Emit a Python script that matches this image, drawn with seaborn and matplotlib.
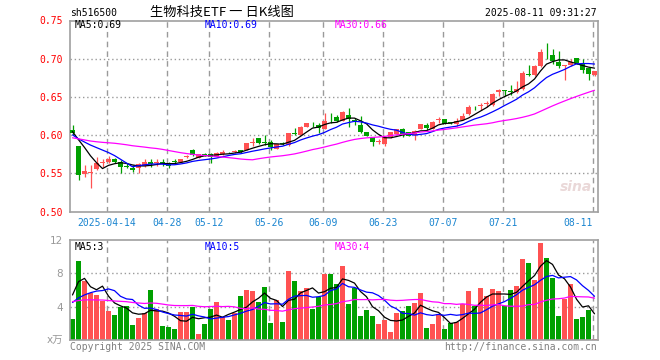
import numpy as np
import pandas as pd
import matplotlib
matplotlib.use("Agg")
import matplotlib.pyplot as plt
import seaborn as sns

# ---------------- data ----------------
opens = [0.6065, 0.5856, 0.5487, 0.5500, 0.5556, 0.5635, 0.5643, 0.5687, 0.5643, 0.5590,
         0.5574, 0.5574, 0.5600, 0.5643, 0.5636, 0.5643, 0.5630, 0.5655, 0.5652, 0.5715,
         0.5809, 0.5704, 0.5745, 0.5748, 0.5717, 0.5748, 0.5778, 0.5774, 0.5804, 0.5804,
         0.5900, 0.5957, 0.5903, 0.5912, 0.5824, 0.5893, 0.5868, 0.6025, 0.6000, 0.6110,
         0.6156, 0.6132, 0.6079, 0.6222, 0.6241, 0.6189, 0.6263, 0.6191, 0.6132, 0.6035,
         0.5969, 0.5910, 0.5881, 0.5969, 0.6013, 0.6075, 0.6035, 0.6000, 0.6079, 0.6132,
         0.6079, 0.6204, 0.6211, 0.6164, 0.6140, 0.6201, 0.6280, 0.6380, 0.6383, 0.6410,
         0.6399, 0.6561, 0.6586, 0.6567, 0.6565, 0.6605, 0.6796, 0.6785, 0.6903, 0.7059,
         0.7044, 0.6960, 0.6900, 0.6917, 0.7004, 0.6925, 0.6873, 0.6785]
highs = [0.6130, 0.5860, 0.5609, 0.5609, 0.5709, 0.5687, 0.5726, 0.5700, 0.5674, 0.5630,
         0.5609, 0.5639, 0.5687, 0.5687, 0.5687, 0.5687, 0.5652, 0.5682, 0.5690, 0.5745,
         0.5822, 0.5750, 0.5761, 0.5761, 0.5774, 0.5804, 0.5785, 0.5800, 0.5810, 0.5895,
         0.5957, 0.5965, 0.6000, 0.5934, 0.5890, 0.5912, 0.6030, 0.6088, 0.6115, 0.6160,
         0.6176, 0.6154, 0.6285, 0.6285, 0.6263, 0.6315, 0.6351, 0.6220, 0.6250, 0.6040,
         0.5978, 0.5943, 0.5978, 0.6040, 0.6080, 0.6088, 0.6040, 0.6066, 0.6150, 0.6162,
         0.6180, 0.6241, 0.6215, 0.6176, 0.6220, 0.6289, 0.6399, 0.6385, 0.6421, 0.6451,
         0.6552, 0.6605, 0.6587, 0.6662, 0.6706, 0.6838, 0.6912, 0.6912, 0.7123, 0.7202,
         0.7132, 0.7101, 0.6912, 0.6991, 0.7013, 0.6991, 0.6881, 0.6838]
lows = [0.6000, 0.5413, 0.5456, 0.5304, 0.5543, 0.5587, 0.5630, 0.5630, 0.5508, 0.5565,
        0.5522, 0.5508, 0.5587, 0.5587, 0.5600, 0.5600, 0.5565, 0.5630, 0.5650, 0.5705,
        0.5730, 0.5700, 0.5725, 0.5630, 0.5710, 0.5740, 0.5765, 0.5770, 0.5770, 0.5800,
        0.5861, 0.5880, 0.5868, 0.5802, 0.5820, 0.5868, 0.5860, 0.6000, 0.5995, 0.6105,
        0.6110, 0.6031, 0.6079, 0.6154, 0.6167, 0.6180, 0.6110, 0.6132, 0.6022, 0.5985,
        0.5859, 0.5881, 0.5859, 0.5965, 0.6005, 0.5978, 0.5985, 0.5934, 0.6075, 0.6066,
        0.6075, 0.6154, 0.6140, 0.6150, 0.6119, 0.6192, 0.6267, 0.6333, 0.6333, 0.6368,
        0.6377, 0.6508, 0.6508, 0.6530, 0.6552, 0.6596, 0.6772, 0.6772, 0.6895, 0.6991,
        0.6934, 0.6881, 0.6719, 0.6903, 0.6925, 0.6816, 0.6719, 0.6772]
closes = [0.6030, 0.5478, 0.5535, 0.5522, 0.5630, 0.5645, 0.5687, 0.5643, 0.5587, 0.5585,
          0.5545, 0.5622, 0.5643, 0.5622, 0.5642, 0.5622, 0.5600, 0.5650, 0.5687, 0.5725,
          0.5743, 0.5748, 0.5740, 0.5717, 0.5761, 0.5783, 0.5774, 0.5791, 0.5774, 0.5891,
          0.5913, 0.5891, 0.5897, 0.5846, 0.5881, 0.5888, 0.6022, 0.6020, 0.6110, 0.6154,
          0.6152, 0.6088, 0.6189, 0.6218, 0.6189, 0.6307, 0.6211, 0.6187, 0.6044, 0.5991,
          0.5912, 0.5914, 0.5969, 0.6035, 0.6075, 0.6013, 0.5991, 0.6053, 0.6145, 0.6088,
          0.6176, 0.6208, 0.6145, 0.6160, 0.6189, 0.6254, 0.6368, 0.6375, 0.6388, 0.6414,
          0.6543, 0.6596, 0.6580, 0.6563, 0.6605, 0.6807, 0.6792, 0.6903, 0.7088, 0.7055,
          0.6969, 0.6903, 0.6905, 0.6960, 0.6939, 0.6851, 0.6794, 0.6838]
volumes = [2.52, 9.48, 7.08, 5.68, 5.40, 4.68, 3.48, 3.00, 3.92, 4.08,
           1.80, 2.68, 3.28, 6.00, 3.68, 1.68, 1.56, 1.32, 3.36, 3.36,
           4.00, 0.72, 1.92, 3.72, 4.60, 2.72, 2.40, 3.30, 5.28, 6.00,
           5.88, 4.60, 6.40, 2.08, 4.80, 2.20, 8.30, 7.08, 5.88, 6.28,
           3.72, 5.20, 7.92, 7.92, 6.72, 8.88, 4.32, 6.30, 2.88, 3.60,
           2.88, 1.92, 2.40, 0.96, 3.24, 3.48, 4.08, 4.44, 5.64, 1.44,
           1.92, 3.12, 1.32, 2.08, 2.14, 4.28, 5.88, 4.08, 6.24, 5.28,
           6.12, 5.88, 4.08, 6.00, 6.48, 9.72, 9.24, 7.20, 11.64, 9.84,
           7.44, 2.88, 4.92, 6.72, 2.52, 2.76, 3.60, 0.12]
# sessions before the visible window (only feed the moving averages)
prior_closes = [0.590, 0.594, 0.596, 0.592, 0.588, 0.585, 0.583, 0.587, 0.590, 0.592,
                0.589, 0.591, 0.593, 0.588, 0.598, 0.603, 0.608, 0.611, 0.607, 0.606,
                0.600, 0.595, 0.592, 0.596, 0.597, 0.601, 0.604, 0.607, 0.608]
prior_volumes = [5.5, 4.8, 5.2, 6.0, 4.9, 5.3, 4.7, 5.1, 5.4, 4.7,
                 4.5, 5.0, 4.2, 4.8, 4.6, 4.8, 3.2, 3.6, 3.4, 3.3,
                 4.0, 3.5, 3.0, 3.5, 4.0, 1.5, 5.1, 10.7, 7.2]
tick_index = [6, 16, 23, 33, 42, 52, 62, 72, 87]
tick_labels = ["2025-04-14", "04-28", "05-12", "05-26", "06-09",
               "06-23", "07-07", "07-21", "08-11"]
price_ticks = [0.50, 0.55, 0.60, 0.65, 0.70, 0.75]
vol_ticks = [0, 4, 8, 12]
vol_tick_labels = ["x万", "4", "8", "12"]
price_ma_labels = ["MA5:0.69", "MA10:0.69", "MA30:0.66"]
vol_ma_labels = ["MA5:3", "MA10:5", "MA30:4"]

# ---------------- styling ----------------
sns.set_theme(style="white")
MONO = ["DejaVu Sans Mono", "Noto Sans CJK SC"]
plt.rcParams["font.family"] = MONO
UP, DOWN = "#ff5252", "#00a000"
GRID = "#9a9a9a"
SPINE = "#a0a0a0"

W, H = 660, 360
fig = plt.figure(figsize=(W / 100, H / 100), dpi=100)
fig.patch.set_facecolor("white")
ax = fig.add_axes([70 / W, 1 - 211.5 / H, 528 / W, 191 / H])
axv = fig.add_axes([70 / W, 1 - 340 / H, 528 / W, 100 / H])

n = len(closes)
x = np.arange(n)
o = np.array(opens); c = np.array(closes); hi = np.array(highs); lo = np.array(lows)
cols = [UP if cc >= oo else DOWN for oo, cc in zip(o, c)]

# moving averages
full_c = pd.Series(prior_closes + closes)
full_v = pd.Series(prior_volumes + volumes)
k = len(prior_closes)
periods = (5, 10, 30)
ma = {p: full_c.rolling(p).mean().iloc[k:].to_numpy() for p in periods}
vma = {p: full_v.rolling(p).mean().iloc[k:].to_numpy() for p in periods}
ma_cols = {5: "#000000", 10: "#0000ff", 30: "#ff00ff"}

xlim = (-2.5 / 6, n - 2.5 / 6)
for a in (ax, axv):
    a.set_xlim(*xlim)
    a.set_facecolor("white")
    for s in a.spines.values():
        s.set_color(SPINE)
        s.set_linewidth(1.2)
    for t in tick_index:
        a.axvline(t - 0.3, color=GRID, lw=1.0, ls=(0, (4, 3)), zorder=0)

# price panel
ax.set_ylim(0.50, 0.75)
for yv in [0.55, 0.60, 0.65, 0.70]:
    ax.axhline(yv, color=GRID, lw=1.0, ls=(0, (1, 2)), zorder=0)
ax.vlines(x, lo, hi, colors=cols, lw=0.9, zorder=2)
body = np.maximum(np.abs(c - o), 0.0011)
ax.bar(x, body, bottom=np.minimum(o, c), width=0.83, color=cols, lw=0, zorder=3)
for p in periods:
    sns.lineplot(x=x, y=ma[p], ax=ax, color=ma_cols[p], lw=0.9, zorder=4)
ax.set_yticks(price_ticks)
ax.set_yticklabels([f"{v:.2f}" for v in price_ticks])
ax.tick_params(axis="y", length=0, pad=5, labelcolor="#ff0000", labelsize=7)
ax.set_xticks(np.array(tick_index) - 0.3)
ax.set_xticklabels(tick_labels)
ax.tick_params(axis="x", length=0, pad=5, labelcolor="#1a85d0", labelsize=7)
ax.get_xticklabels()[-1].set_ha("right")
ax.set_xlabel(""); ax.set_ylabel("")

# volume panel
axv.set_ylim(0, 12)
for yv in [4, 8]:
    axv.axhline(yv, color=GRID, lw=1.0, ls=(0, (1, 2)), zorder=0)
axv.bar(x, volumes, width=0.83, color=cols, lw=0, zorder=2)
for p in periods:
    sns.lineplot(x=x, y=vma[p], ax=axv, color=ma_cols[p], lw=0.9, zorder=4)
axv.set_yticks(vol_ticks)
axv.set_yticklabels(vol_tick_labels, family=["DejaVu Sans", "Noto Sans CJK SC"])
axv.tick_params(axis="y", length=0, pad=5, labelcolor="#999999", labelsize=7.5)
axv.set_xticks([])
axv.set_xlabel(""); axv.set_ylabel("")

# texts
def ftext(px, py, s, **kw):
    fig.text(px / W, 1 - py / H, s, va="center", **kw)

ftext(70, 13.5, "sh516500", ha="left", fontsize=7, color="black")
ftext(222, 12, "生物科技ETF 一 日K线图", ha="center", fontsize=9.5, color="black",
      family=["Noto Sans CJK SC", "DejaVu Sans"])
ftext(597, 13.5, "2025-08-11 09:31:27", ha="right", fontsize=7, color="black")
for xpos, lab, p in zip((75, 205, 335), price_ma_labels, periods):
    ftext(xpos, 25.5, lab, ha="left", fontsize=7, color=ma_cols[p])
for xpos, lab, p in zip((75, 205, 335), vol_ma_labels, periods):
    ftext(xpos, 246.5, lab, ha="left", fontsize=7, color=ma_cols[p])
ftext(70, 347.5, "Copyright 2025 SINA.COM", ha="left", fontsize=7, color="#808080")
ftext(597, 347.5, "http://finance.sina.com.cn", ha="right", fontsize=7, color="#808080")
ftext(576, 187, "sina", ha="center", fontsize=10, color="#ead8d8",
      family="DejaVu Sans", fontweight="bold", style="italic")

fig.savefig("out.png", dpi=100)
